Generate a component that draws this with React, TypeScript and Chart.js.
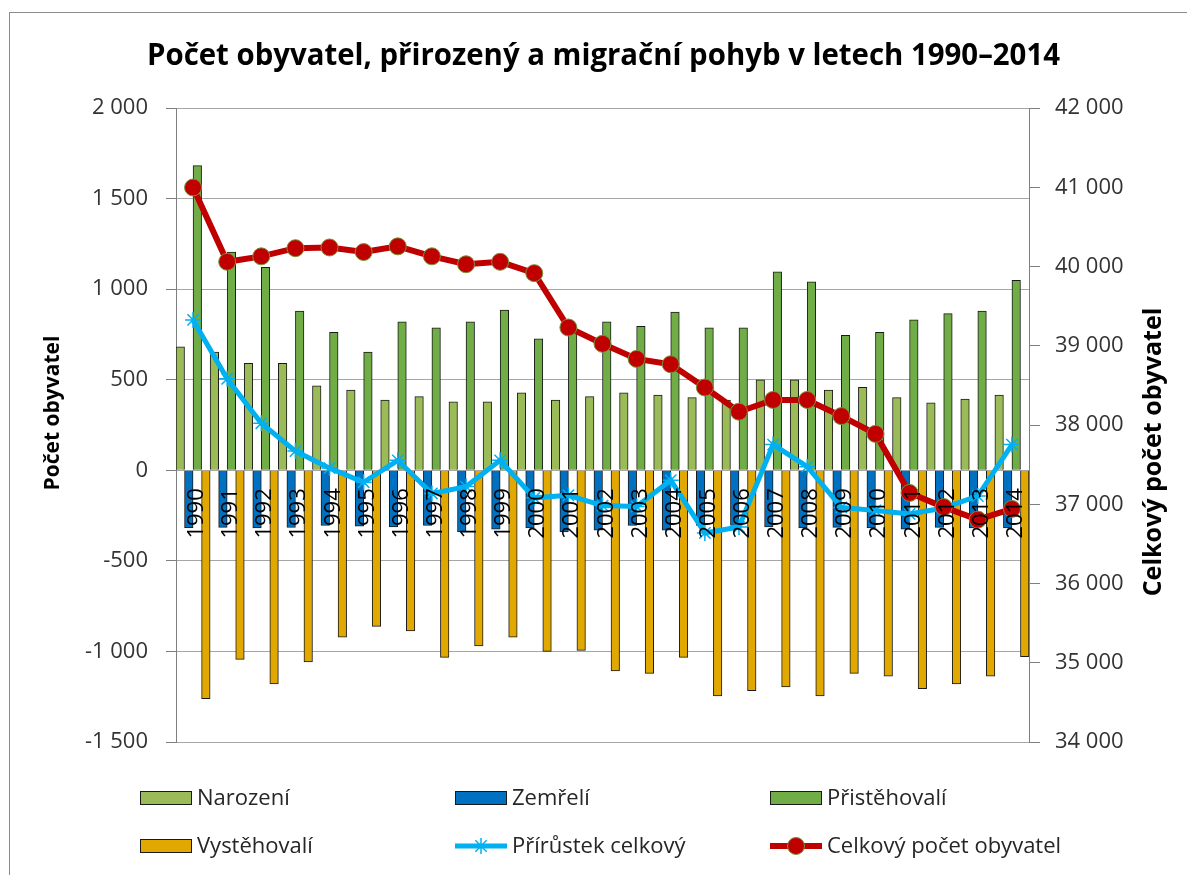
import React, { useEffect, useRef } from 'react';
import { Chart, registerables } from 'chart.js';

Chart.register(...registerables);

// ---------- data ----------
const years = [
  '1990', '1991', '1992', '1993', '1994', '1995', '1996', '1997', '1998', '1999',
  '2000', '2001', '2002', '2003', '2004', '2005', '2006', '2007', '2008', '2009',
  '2010', '2011', '2012', '2013', '2014',
];

const narozeni = [682, 653, 590, 590, 466, 443, 387, 407, 378, 378, 427, 387, 407, 427, 415, 401, 387, 500, 500, 443, 458, 401, 372, 393, 415];
const zemreli = [-317, -315, -318, -316, -305, -308, -312, -305, -340, -325, -318, -340, -330, -305, -330, -305, -305, -312, -318, -315, -318, -325, -315, -318, -318];
const pristehovali = [1682, 1204, 1121, 879, 761, 653, 820, 787, 820, 885, 726, 760, 820, 795, 873, 787, 787, 1096, 1040, 745, 761, 830, 865, 879, 1048];
const vystehovali = [-1261, -1044, -1180, -1058, -921, -862, -887, -1033, -970, -921, -1000, -994, -1107, -1121, -1033, -1245, -1216, -1196, -1245, -1121, -1137, -1206, -1180, -1137, -1029];
const prirustek = [830, 505, 260, 106, 12, -66, 55, -128, -90, 55, -152, -138, -195, -200, -55, -346, -313, 142, 20, -205, -222, -241, -208, -142, 142];
const celkovy = [40997, 40059, 40128, 40231, 40240, 40182, 40254, 40128, 40028, 40059, 39916, 39230, 39024, 38834, 38766, 38473, 38167, 38316, 38316, 38112, 37888, 37143, 36964, 36806, 36941];

const titleText = 'Počet obyvatel, přirozený a migrační pohyb v letech 1990–2014';
const leftTitle = 'Počet obyvatel';
const rightTitle = 'Celkový počet obyvatel';

const FONT = "'Open Sans', sans-serif";

function fmt(v: number | string): string {
  const n = Number(v);
  const s = String(Math.abs(Math.round(n))).replace(/\B(?=(\d{3})+(?!\d))/g, ' ');
  return (n < 0 ? '-' : '') + s;
}

const decorPlugin = {
  id: 'decor',
  afterDraw(chart: any) {
    const ctx: CanvasRenderingContext2D = chart.ctx;
    ctx.save();
    // outer border
    ctx.strokeStyle = '#8c8c8c';
    ctx.lineWidth = 1;
    ctx.strokeRect(9.5, 12.5, 1400, 1000);

    // category labels, rotated, next to the zero line, over the marks
    const xs = chart.scales.x;
    const ys = chart.scales.y;
    const y0 = ys.getPixelForValue(0);
    ctx.fillStyle = '#000';
    ctx.font = `22px ${FONT}`;
    ctx.textAlign = 'right';
    ctx.textBaseline = 'alphabetic';
    (chart.data.labels as string[]).forEach((lab, i) => {
      const px = xs.getPixelForValue(i);
      ctx.save();
      ctx.translate(px + 10, y0 + 18);
      ctx.rotate(-Math.PI / 2);
      ctx.fillText(lab, 0, 0);
      ctx.restore();
    });

    // title
    ctx.fillStyle = '#000';
    ctx.font = `bold 29.5px ${FONT}`;
    ctx.textAlign = 'center';
    ctx.textBaseline = 'alphabetic';
    ctx.fillText(titleText, 603.5, 65, 913);

    // axis titles
    ctx.textBaseline = 'middle';
    ctx.font = `bold 21px ${FONT}`;
    ctx.save();
    ctx.translate(53, 413);
    ctx.rotate(-Math.PI / 2);
    ctx.fillText(leftTitle, 0, 0, 163);
    ctx.restore();
    ctx.font = `bold 25px ${FONT}`;
    ctx.save();
    ctx.translate(1154, 452);
    ctx.rotate(-Math.PI / 2);
    ctx.fillText(rightTitle, 0, 0, 315);
    ctx.restore();

    // legend
    const ds = chart.data.datasets;
    ctx.font = `22px ${FONT}`;
    ctx.textAlign = 'left';
    ctx.textBaseline = 'middle';
    ds.forEach((d: any, i: number) => {
      const col = i % 3;
      const row = Math.floor(i / 3);
      const x0 = 140 + col * 315;
      const yc = 798 + row * 48;
      if (d.type === 'bar') {
        ctx.fillStyle = d.backgroundColor;
        ctx.fillRect(x0, yc - 7, 52, 14);
        ctx.strokeStyle = '#1a1a1a';
        ctx.lineWidth = 1;
        ctx.strokeRect(x0 + 0.5, yc - 6.5, 51, 13);
      } else {
        ctx.strokeStyle = d.borderColor;
        ctx.lineWidth = d.borderWidth;
        ctx.beginPath();
        ctx.moveTo(x0, yc);
        ctx.lineTo(x0 + 52, yc);
        ctx.stroke();
        const cx = x0 + 26;
        if (d.pointStyle === 'star') {
          const r = d.pointRadius;
          ctx.lineWidth = d.pointBorderWidth;
          ctx.strokeStyle = d.pointBorderColor;
          ctx.beginPath();
          for (let k = 0; k < 4; k++) {
            const a = (k * Math.PI) / 4;
            ctx.moveTo(cx - r * Math.cos(a), yc - r * Math.sin(a));
            ctx.lineTo(cx + r * Math.cos(a), yc + r * Math.sin(a));
          }
          ctx.stroke();
        } else {
          ctx.beginPath();
          ctx.arc(cx, yc, d.pointRadius, 0, Math.PI * 2);
          ctx.fillStyle = d.pointBackgroundColor;
          ctx.fill();
          ctx.lineWidth = d.pointBorderWidth;
          ctx.strokeStyle = d.pointBorderColor;
          ctx.stroke();
        }
      }
      ctx.fillStyle = '#262626';
      ctx.fillText(d.label, x0 + 57, yc + 1);
    });
    ctx.restore();
  },
};

export default function App() {
  const ref = useRef<HTMLCanvasElement>(null);

  useEffect(() => {
    const canvas = ref.current;
    if (!canvas) return;
    Chart.defaults.font.family = FONT;
    const barCommon = {
      type: 'bar' as const,
      yAxisID: 'y',
      borderColor: '#1a1a1a',
      borderWidth: 1,
      categoryPercentage: 1,
      barPercentage: 1,
      order: 2,
    };
    const chart = new Chart(canvas, {
      type: 'bar',
      data: {
        labels: years,
        datasets: [
          { ...barCommon, label: 'Narození', data: narozeni, backgroundColor: '#9BBB59' },
          { ...barCommon, label: 'Zemřelí', data: zemreli, backgroundColor: '#0070C0' },
          { ...barCommon, label: 'Přistěhovalí', data: pristehovali, backgroundColor: '#70AD47' },
          { ...barCommon, label: 'Vystěhovalí', data: vystehovali, backgroundColor: '#E0A800' },
          {
            type: 'line',
            label: 'Přírůstek celkový',
            data: prirustek,
            yAxisID: 'y',
            borderColor: '#00B0F0',
            backgroundColor: '#00B0F0',
            borderWidth: 5,
            pointStyle: 'star',
            pointRadius: 8,
            pointBorderColor: '#00B0F0',
            pointBackgroundColor: '#00B0F0',
            pointBorderWidth: 1.5,
            tension: 0,
            order: 1,
          } as any,
          {
            type: 'line',
            label: 'Celkový počet obyvatel',
            data: celkovy,
            yAxisID: 'y1',
            borderColor: '#C00000',
            backgroundColor: '#C00000',
            borderWidth: 6,
            pointStyle: 'circle',
            pointRadius: 8.5,
            pointBackgroundColor: '#C00000',
            pointBorderColor: '#77933C',
            pointBorderWidth: 1,
            tension: 0,
            order: 0,
          } as any,
        ],
      },
      options: {
        responsive: false,
        animation: false,
        layout: { padding: { top: 108, bottom: 133, left: 0, right: 0 } },
        plugins: {
          legend: { display: false },
          title: { display: false },
          tooltip: { enabled: false },
        },
        scales: {
          x: {
            type: 'category',
            position: { y: 0 } as any,
            offset: true,
            grid: { display: false, drawTicks: false },
            border: { display: true, color: '#A6A6A6' },
            ticks: { display: false, autoSkip: false },
          },
          y: {
            position: 'left',
            min: -1500,
            max: 2000,
            ticks: {
              stepSize: 500,
              padding: 18,
              color: '#333',
              font: { size: 22, family: FONT },
              callback: (v: any) => fmt(v),
            },
            grid: { color: '#A6A6A6', tickColor: '#7F7F7F', tickLength: 10, lineWidth: 1 },
            border: { color: '#7F7F7F', width: 1 },
            afterFit: (s: any) => { s.width = 176; },
          },
          y1: {
            position: 'right',
            min: 34000,
            max: 42000,
            ticks: {
              stepSize: 1000,
              padding: 15,
              color: '#333',
              font: { size: 22, family: FONT },
              callback: (v: any) => fmt(v),
            },
            grid: { drawOnChartArea: false, tickColor: '#7F7F7F', tickLength: 11 },
            border: { color: '#7F7F7F', width: 1 },
            afterFit: (s: any) => { s.width = 1187 - 1029; },
          },
        },
      } as any,
      plugins: [decorPlugin],
    });
    return () => chart.destroy();
  }, []);

  return (
    <div style={{ position: 'absolute', left: 0, top: 0, width: 1187, height: 875, background: '#fff' }}>
      <canvas ref={ref} width={1187} height={875} style={{ display: 'block' }} />
    </div>
  );
}
